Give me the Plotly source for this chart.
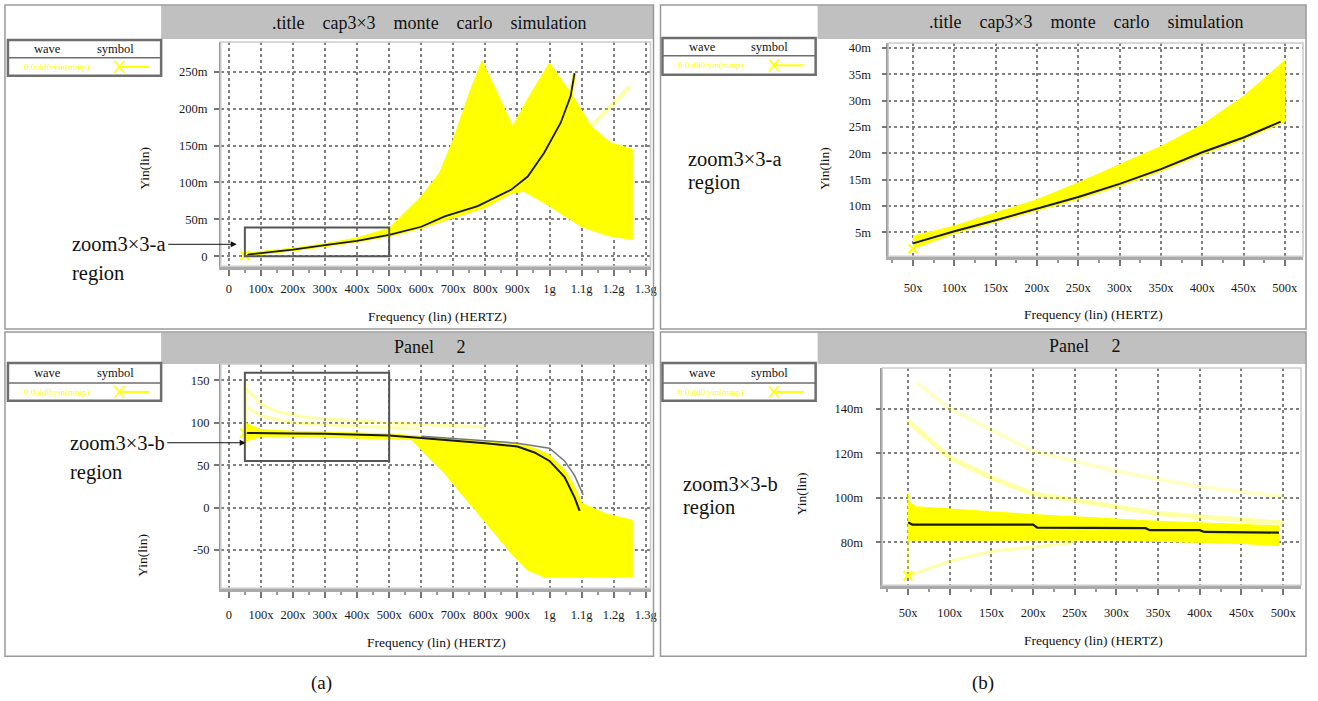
import plotly.graph_objects as go

W, H = 1318, 701

# ---------------- data ----------------
# frequency in MHz ("x"), Yin in m (milli) for panels with "m" labels
# (a) top: full sweep
a1_nom_f = [50, 100, 200, 300, 400, 500, 600, 673, 776, 880, 932, 983, 1035, 1066, 1078]
a1_nom_y = [2, 4, 9, 15, 21, 29, 40, 54, 68, 90, 108, 140, 181, 217, 248]
a1_up_f = [50, 100, 200, 300, 400, 500, 600, 657, 700, 750, 790, 885, 936, 1000, 1080, 1130, 1190, 1258]
a1_up_y = [4, 6, 11, 17, 25, 38, 81, 113, 158, 221, 265, 176, 216, 262, 212, 176, 154, 145]
a1_lo_f = [50, 100, 200, 300, 400, 500, 600, 700, 800, 880, 920, 1000, 1100, 1190, 1258]
a1_lo_y = [1, 3, 8, 14, 20, 27, 38, 52, 66, 85, 88, 68, 40, 27, 23]
a1_faint_f = [1130, 1190, 1250]
a1_faint_y = [176, 203, 230]

# (a) bottom: Panel 2 full sweep
a2_nom_f = [50, 100, 200, 300, 400, 500, 600, 700, 800, 900, 953, 1000, 1047, 1078, 1094]
a2_nom_y = [88, 88, 87.5, 87, 86, 85, 82, 79, 76, 72, 65, 55, 36, 12, -4]
a2_alt_f = [600, 800, 900, 1000, 1047, 1078, 1105]
a2_alt_y = [84, 79, 76, 70, 55, 38, 15]
a2_up_f = [50, 100, 200, 300, 400, 500, 600, 700, 800, 900, 953, 1000, 1047, 1078, 1100, 1180, 1258]
a2_up_y = [100, 92, 90, 89, 88, 87, 84, 81, 78, 75, 70, 62, 45, 25, 5, -8, -15]
a2_lo_f = [50, 100, 200, 300, 400, 500, 571, 623, 674, 726, 777, 829, 881, 932, 984, 1258]
a2_lo_y = [78, 84, 84, 83, 82, 81, 80, 59, 40, 16, -7, -31, -54, -74, -82, -82]
a2_spike_f = [50, 50]
a2_spike_y = [72, 148]
a2_faint1_f = [55, 100, 150, 250, 400, 600, 800]
a2_faint1_y = [140, 122, 113, 106, 102, 98, 95]
a2_faint2_f = [60, 100, 200, 400, 600]
a2_faint2_y = [118, 108, 100, 96, 93]

# (b) top: zoom 3x3-a
b1_nom_f = [50, 100, 150, 200, 250, 300, 350, 400, 450, 495]
b1_nom_y = [2.9, 5.2, 7.3, 9.5, 11.7, 14.2, 17.0, 20.2, 23.0, 26.0]
b1_up_f = [50, 100, 150, 200, 250, 300, 350, 400, 450, 500]
b1_up_y = [4.3, 6.2, 8.7, 11.2, 14.4, 17.8, 21.3, 25.4, 30.8, 37.6]
b1_lo_f = [50, 100, 150, 200, 250, 300, 350, 400, 450, 500]
b1_lo_y = [1.9, 4.8, 6.9, 9.1, 11.3, 13.8, 16.6, 19.8, 22.6, 26.0]

# (b) bottom: zoom 3x3-b
b2_nom_f = [50, 55, 100, 150, 200, 205, 300, 335, 340, 400, 405, 495]
b2_nom_y = [89, 88, 88, 88, 88, 86.6, 86.6, 86.4, 85.5, 85.5, 84.7, 84.4]
b2_up_f = [50, 52, 60, 100, 150, 200, 250, 300, 350, 400, 450, 495]
b2_up_y = [102, 98, 96, 95, 93.5, 92.5, 91.5, 90.4, 89.5, 88.8, 88, 87.4]
b2_lo_f = [50, 52, 60, 100, 150, 200, 250, 300, 350, 400, 450, 495]
b2_lo_y = [80, 81, 81, 81, 81, 81, 81, 81, 80.5, 80, 79.5, 78.5]
b2_spike_f = [50, 50]
b2_spike_y = [65, 102]
b2_faint1_f = [50, 100, 150, 200, 250, 350, 500]
b2_faint1_y = [134.6, 118, 109, 101.8, 98.9, 93, 88.7]
b2_faint2_f = [60, 100, 200, 300, 400, 500]
b2_faint2_y = [152, 140, 121, 112, 105, 100.6]
b2_faint3_f = [50, 100, 150, 250]
b2_faint3_y = [65, 71.6, 76, 80]

# tick labels
a_xtick_vals = [0, 100, 200, 300, 400, 500, 600, 700, 800, 900, 1000, 1100, 1200, 1300]
a_xtick_text = ["0", "100x", "200x", "300x", "400x", "500x", "600x", "700x", "800x", "900x",
                "1g", "1.1g", "1.2g", "1.3g"]
a1_ytick_vals = [0, 50, 100, 150, 200, 250]
a1_ytick_text = ["0", "50m", "100m", "150m", "200m", "250m"]
a2_ytick_vals = [-50, 0, 50, 100, 150]
a2_ytick_text = ["-50", "0", "50", "100", "150"]
b_xtick_vals = [50, 100, 150, 200, 250, 300, 350, 400, 450, 500]
b_xtick_text = ["50x", "100x", "150x", "200x", "250x", "300x", "350x", "400x", "450x", "500x"]
b1_ytick_vals = [5, 10, 15, 20, 25, 30, 35, 40]
b1_ytick_text = ["5m", "10m", "15m", "20m", "25m", "30m", "35m", "40m"]
b2_ytick_vals = [80, 100, 120, 140]
b2_ytick_text = ["80m", "100m", "120m", "140m"]

zoom_a = [50, 500, 0, 39]
zoom_b = [50, 500, 55, 159]

panel_title_1 = ".title\u00a0\u00a0\u00a0\u00a0cap3×3\u00a0\u00a0\u00a0\u00a0monte\u00a0\u00a0\u00a0\u00a0carlo\u00a0\u00a0\u00a0\u00a0simulation"
panel_title_2 = "Panel\u00a0\u00a0\u00a0\u00a0\u00a02"
legend_wave_text = "0:0.dd0:yin(mmp)"

# ---------------- styling ----------------
YEL = "#ffff00"
FAINT = "rgba(255,255,0,0.35)"
FONT = "Liberation Serif, Times New Roman, Times, serif"


def px(x):
    return x / W


def py(y):
    return 1 - y / H


fig = go.Figure()


def band(xa, ya, up_f, up_y, lo_f, lo_y):
    fig.add_trace(go.Scatter(
        x=list(up_f) + list(lo_f)[::-1], y=list(up_y) + list(lo_y)[::-1],
        fill="toself", fillcolor=YEL, mode="lines", line=dict(color=YEL, width=1),
        xaxis=xa, yaxis=ya, hoverinfo="skip", showlegend=False))


def line(xa, ya, f, y, color, width):
    fig.add_trace(go.Scatter(x=f, y=y, mode="lines", line=dict(color=color, width=width),
                             xaxis=xa, yaxis=ya, hoverinfo="skip", showlegend=False))


def marker(xa, ya, f, y):
    fig.add_trace(go.Scatter(x=[f[0]], y=[y[0]], mode="markers",
                             marker=dict(symbol="x-thin-open", size=9, color=YEL,
                                         line=dict(color=YEL, width=2)),
                             xaxis=xa, yaxis=ya, hoverinfo="skip", showlegend=False))


# (a) top
band("x", "y", a1_up_f, a1_up_y, a1_lo_f, a1_lo_y)
line("x", "y", a1_faint_f, a1_faint_y, FAINT, 4)
line("x", "y", a1_nom_f, a1_nom_y, "rgba(255,255,0,0.8)", 4)
line("x", "y", a1_nom_f, a1_nom_y, "#1a1a1a", 1.8)
marker("x", "y", a1_lo_f, a1_lo_y)

# (b) top
band("x2", "y2", b1_up_f, b1_up_y, b1_lo_f, b1_lo_y)
line("x2", "y2", b1_nom_f, b1_nom_y, "#1a1a1a", 2)
marker("x2", "y2", b1_lo_f, b1_lo_y)

# (a) bottom
band("x3", "y3", a2_up_f, a2_up_y, a2_lo_f, a2_lo_y)
line("x3", "y3", a2_spike_f, a2_spike_y, FAINT, 4)
line("x3", "y3", a2_faint1_f, a2_faint1_y, FAINT, 3)
line("x3", "y3", a2_faint2_f, a2_faint2_y, FAINT, 3)
line("x3", "y3", a2_alt_f, a2_alt_y, "#777777", 1.5)
line("x3", "y3", a2_nom_f, a2_nom_y, "#1a1a1a", 2)
marker("x3", "y3", a2_nom_f, a2_nom_y)

# (b) bottom
band("x4", "y4", b2_up_f, b2_up_y, b2_lo_f, b2_lo_y)
line("x4", "y4", b2_spike_f, b2_spike_y, FAINT, 3)
line("x4", "y4", b2_faint1_f, b2_faint1_y, FAINT, 5)
line("x4", "y4", b2_faint2_f, b2_faint2_y, "rgba(255,255,0,0.22)", 4)
line("x4", "y4", b2_faint3_f, b2_faint3_y, FAINT, 3)
line("x4", "y4", b2_nom_f, b2_nom_y, "#1a1a1a", 2.2)
marker("x4", "y4", b2_spike_f, b2_spike_y)

tickfont = dict(family=FONT, size=12.5, color="#1a1a1a")


def xaxis_cfg(x0, x1, rng, vals, text, anchor, standoff, minor_dtick):
    return dict(domain=[px(x0), px(x1)], range=rng, anchor=anchor,
                tickmode="array", tickvals=vals, ticktext=text, tickfont=tickfont,
                showgrid=True, gridcolor="#808080", griddash="dot", gridwidth=1.5,
                zeroline=False, showline=True, linecolor="#aaaaaa", linewidth=4,
                ticks="outside", ticklen=6, tickcolor="#777777", tickwidth=2,
                ticklabelstandoff=standoff,
                minor=dict(dtick=minor_dtick, tick0=0, ticks="outside", ticklen=3,
                           tickcolor="#999999", showgrid=False),
                fixedrange=True)


def yaxis_cfg(y_top, y_bot, rng, vals, text, anchor, standoff):
    return dict(domain=[py(y_bot), py(y_top)], range=rng, anchor=anchor,
                tickmode="array", tickvals=vals, ticktext=text, tickfont=tickfont,
                showgrid=True, gridcolor="#808080", griddash="dot", gridwidth=1.5,
                zeroline=False, showline=True, linecolor="#999999", linewidth=1.5,
                ticks="outside", ticklen=5, tickcolor="#777777", tickwidth=1.5,
                ticklabelstandoff=standoff, fixedrange=True)


layout_axes = dict(
    xaxis=xaxis_cfg(222, 654, [-25, 1315], a_xtick_vals, a_xtick_text, "y", 2, 50),
    yaxis=yaxis_cfg(40, 265, [-13.5, 290.5], a1_ytick_vals, a1_ytick_text, "x", 4),
    xaxis2=xaxis_cfg(893, 1310, [20, 522], b_xtick_vals, b_xtick_text, "y2", 11, 25),
    yaxis2=yaxis_cfg(41, 255, [0.46, 40.95], b1_ytick_vals, b1_ytick_text, "x2", 8),
    xaxis3=xaxis_cfg(222, 654, [-25, 1315], a_xtick_vals, a_xtick_text, "y3", 6, 50),
    yaxis3=yaxis_cfg(363, 588, [-95.3, 169.4], a2_ytick_vals, a2_ytick_text, "x3", 2),
    xaxis4=xaxis_cfg(887, 1308, [19, 521.5], b_xtick_vals, b_xtick_text, "y4", 7, 25),
    yaxis4=yaxis_cfg(367, 585, [60.7, 158.4], b2_ytick_vals, b2_ytick_text, "x4", 10),
)

shapes = []
annotations = []


def rect(x0, y0, x1, y1, color="#999999", width=1.5, fill=None, layer="above"):
    d = dict(type="rect", xref="paper", yref="paper", x0=px(x0), x1=px(x1), y0=py(y0), y1=py(y1),
             line=dict(color=color, width=width), layer=layer)
    if fill:
        d["fillcolor"] = fill
    shapes.append(d)


def seg(x0, y0, x1, y1, color, width):
    shapes.append(dict(type="line", xref="paper", yref="paper", x0=px(x0), x1=px(x1),
                       y0=py(y0), y1=py(y1), line=dict(color=color, width=width)))


def text(x, y, s, size=12, color="#111111", xanchor="center", angle=0):
    annotations.append(dict(x=px(x), y=py(y), xref="paper", yref="paper", text=s,
                            showarrow=False, xanchor=xanchor, yanchor="middle", textangle=angle,
                            font=dict(family=FONT, size=size, color=color)))


def panel(bx0, by0, bx1, by1, barx0, bar_y1, title, tcx, tcy, lx0, ly0, lx1, ly1, ldiv,
          plot_box, ytitle_xy, xtitle_xy):
    rect(bx0, by0, bx1, by1, color="#9a9a9a", width=1.5)
    rect(barx0, by0 + 0.5, bx1, bar_y1, color="#c0c0c0", width=0, fill="#c0c0c0", layer="below")
    text(tcx, tcy, title, size=18)
    # legend box
    rect(lx0, ly0, lx1, ly1, color="#6e6e6e", width=2.5)
    seg(lx0, ldiv, lx1, ldiv, "#6e6e6e", 1.5)
    text(lx0 + 40, (ly0 + ldiv) / 2, "wave", size=12.5)
    text(lx0 + 108, (ly0 + ldiv) / 2, "symbol", size=12.5)
    ymid = (ldiv + ly1) / 2
    text(lx0 + 49, ymid, legend_wave_text, size=9, color=YEL)
    sx = lx0 + 112
    seg(sx - 5, ymid - 6, sx + 5, ymid + 6, YEL, 1.5)
    seg(sx - 5, ymid + 6, sx + 5, ymid - 6, YEL, 1.5)
    seg(sx + 2, ymid, sx + 30, ymid, YEL, 2)
    # plot frame
    fx0, fy0, fx1, fy1 = plot_box
    rect(fx0, fy0, fx1, fy1, color="#cccccc", width=1.5)
    text(ytitle_xy[0], ytitle_xy[1], "Yin(lin)", size=13.5, angle=-90)
    text(xtitle_xy[0], xtitle_xy[1], "Frequency (lin) (HERTZ)", size=13.5)


panel(5, 3, 657, 328, 162, 37, panel_title_1, 432, 21, 8, 38, 162, 74, 56,
      (222, 40, 654, 265), (145, 167), (440, 315))
panel(664, 3, 1313, 328, 822, 37, panel_title_1, 1092, 20, 666, 36, 820, 73, 54,
      (893, 41, 1310, 255), (829, 167), (1099, 313))
panel(5, 331, 657, 656, 162, 363, panel_title_2, 432, 346, 8, 362, 162, 400, 382,
      (222, 363, 654, 588), (143, 555), (439, 642))
panel(664, 331, 1313, 656, 822, 363, panel_title_2, 1091, 345, 666, 362, 820, 400, 382,
      (887, 367, 1308, 585), (806, 493), (1099, 640))

# zoom-region rectangles in data coordinates
shapes.append(dict(type="rect", xref="x", yref="y", x0=zoom_a[0], x1=zoom_a[1], y0=zoom_a[2], y1=zoom_a[3],
                   line=dict(color="#555555", width=2)))
shapes.append(dict(type="rect", xref="x3", yref="y3", x0=zoom_b[0], x1=zoom_b[1], y0=zoom_b[2], y1=zoom_b[3],
                   line=dict(color="#555555", width=2)))

# callouts
CS = 20.5
text(70, 243, "zoom3×3-a", size=CS, xanchor="left")
text(70, 272, "region", size=CS, xanchor="left")
text(68, 442, "zoom3×3-b", size=CS, xanchor="left")
text(68, 472, "region", size=CS, xanchor="left")
text(690, 157, "zoom3×3-a", size=CS, xanchor="left")
text(690, 181, "region", size=CS, xanchor="left")
text(685, 483, "zoom3×3-b", size=CS, xanchor="left")
text(685, 507, "region", size=CS, xanchor="left")

for (tx, hx, yy) in [(168, 238, 243), (167, 247, 442)]:
    annotations.append(dict(x=px(hx), y=py(yy), ax=tx - hx, ay=0, xref="paper", yref="paper",
                            axref="pixel", ayref="pixel", text="", showarrow=True,
                            arrowhead=2, arrowsize=1.2, arrowwidth=1, arrowcolor="#111111"))

text(323, 683, "(a)", size=19)
text(988, 683, "(b)", size=19)

fig.update_layout(
    width=W, height=H, autosize=False,
    margin=dict(l=0, r=0, t=0, b=0),
    paper_bgcolor="white", plot_bgcolor="white",
    showlegend=False, shapes=shapes, annotations=annotations,
    **layout_axes,
)

fig.write_html("out.html", config={"displayModeBar": False},
               post_script="document.body.style.margin='0';document.body.style.overflow='hidden';")
